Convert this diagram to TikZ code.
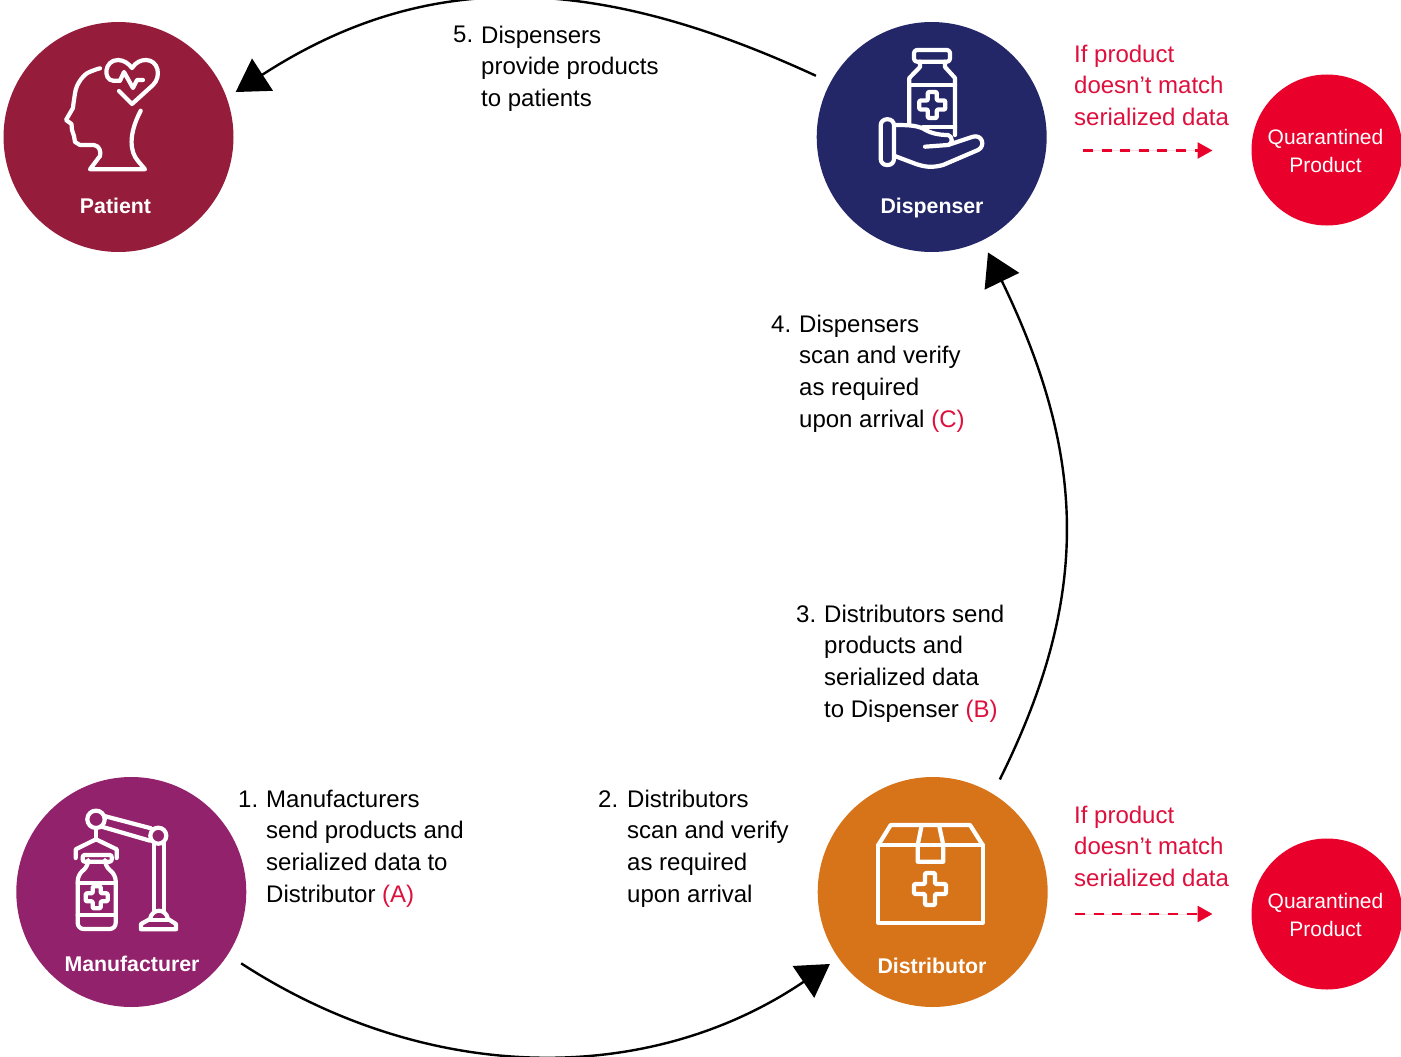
\documentclass[tikz,border=0pt]{standalone}
\usepackage{fontspec}
\setmainfont{Liberation Sans}
\usetikzlibrary{arrows.meta,positioning}

\definecolor{patientred}{HTML}{951C3B}
\definecolor{dispenserblue}{HTML}{232768}
\definecolor{makerpurple}{HTML}{92226B}
\definecolor{distorange}{HTML}{D7741A}
\definecolor{quarred}{HTML}{E9002B}
\definecolor{notered}{HTML}{DE0F3C}

\tikzset{
  actor/.style={circle, minimum size=230pt, inner sep=0, outer sep=10.5pt, text=white},
  quarantine/.style={circle, fill=quarred, minimum size=151pt, inner sep=0, outer sep=0},
  actorname/.style={anchor=base, inner sep=0, text=white, font=\fontsize{21.3}{26}\selectfont\bfseries},
  quarname/.style={anchor=center, inner sep=0, text=white, align=center, font=\fontsize{21}{28}\selectfont},
  steptext/.style={anchor=base west, inner sep=0, align=left, font=\fontsize{24}{31.6}\selectfont},
  rednote/.style={steptext, text=notered},
  flow/.style={-{Triangle[length=32pt,width=38pt]}, line width=2.4pt, shorten <=5.5pt},
  quarflow/.style={-{Triangle[length=15pt,width=16pt]}, draw=quarred, fill=quarred, line width=2.6pt, dash pattern=on 10pt off 8.6pt},
  iconline/.style={draw=white, line width=4.2pt, line cap=round, line join=round},
}

% cross on the bottles and the box: x, y, arm, half width
\newcommand{\medcross}[4]{
  \draw[iconline, rounded corners=1pt] (#1-#4,#2-#3) -- (#1+#4,#2-#3) -- (#1+#4,#2-#4) -- (#1+#3,#2-#4)
    -- (#1+#3,#2+#4) -- (#1+#4,#2+#4) -- (#1+#4,#2+#3) -- (#1-#4,#2+#3) -- (#1-#4,#2+#4)
    -- (#1-#3,#2+#4) -- (#1-#3,#2-#4) -- (#1-#4,#2-#4) -- cycle;
}

\begin{document}
\begin{tikzpicture}[x=1pt, y=-1pt]
  \useasboundingbox (0,0) rectangle (1401,1057);

  \node (patient) at (118.5,137) [actor, fill=patientred] {};
  \node (dispenser) at (931.7,137) [actor, fill=dispenserblue] {};
  \node (manufacturer) at (131.3,892) [actor, fill=makerpurple] {};
  \node (distributor) at (932.7,892) [actor, fill=distorange] {};
  \node (quarantine1) at (1327,150) [quarantine] {};
  \node (quarantine2) at (1327,914) [quarantine] {};

  \node (patientname) at (115.5,213.5) [actorname] {Patient};
  \node (dispensername) at (932,213.5) [actorname] {Dispenser};
  \node (manufacturername) at (132,971) [actorname] {Manufacturer};
  \node (distributorname) at (932,973) [actorname] {Distributor};
  \node (quarname1) at (1325.5,151) [quarname] {Quarantined\\Product};
  \node (quarname2) at (1325.5,915) [quarname] {Quarantined\\Product};

  % base of a text block is its last line
  \node (num1) at (238,807) [steptext] {1.};
  \node (step1) at (266,902) [steptext] {Manufacturers\\send products and\\serialized data to\\Distributor \textcolor{notered}{(A)}};
  \node (num2) at (598,807) [steptext] {2.};
  \node (step2) at (627,902) [steptext] {Distributors\\scan and verify\\as required\\upon arrival};
  \node (num3) at (796,622) [steptext] {3.};
  \node (step3) at (824,717) [steptext] {Distributors send\\products and\\serialized data\\to Dispenser \textcolor{notered}{(B)}};
  \node (num4) at (771,332) [steptext] {4.};
  \node (step4) at (799,427) [steptext] {Dispensers\\scan and verify\\as required\\upon arrival \textcolor{notered}{(C)}};
  \node (num5) at (453,43) [steptext] {5.};
  \node (step5) at (481,106.2) [steptext] {Dispensers\\provide products\\to patients};
  \node (note1) at (1074,125.4) [rednote] {If product\\doesn’t match\\serialized data};
  \node (note2) at (1074,886.4) [rednote] {If product\\doesn’t match\\serialized data};

  % main loop
  \draw[flow] (manufacturer.-33.3) .. controls (430,1086) and (650,1086) .. (distributor.215.3);
  \draw[flow, shorten >=3pt] (distributor.59) .. controls (1089,600) and (1089,461) .. (dispenser.-64.5);
  \draw[flow] (dispenser.152.8) .. controls (600,-24) and (430,-34) .. (patient.21);

  % quarantine arrows
  \coordinate (flag1) at (1083,150.5);
  \coordinate (flag2) at (1075,914);
  \draw[quarflow, shorten >=39pt] (flag1) -- (quarantine1.west |- flag1);
  \draw[quarflow, shorten >=39pt] (flag2) -- (quarantine2);

  % patient icon
  \draw[iconline] plot[smooth, tension=.6] coordinates {(100,68.3) (86,74) (77,86) (74,100) (73,108)} -- (66,120) -- (71.5,124)
    -- (72,130) -- (74,136) -- (75,142) -- (80,145) -- (94,145)
    .. controls (100,146) and (101,152) .. (100,156) -- (90,169.3) -- (145,169.3) -- (138,161)
    .. controls (130,152) and (128,135) .. (140.7,110.7);
  \draw[iconline] (120,80.7) -- (113,80.7) .. controls (103,80) and (104,60) .. (118,60)
    .. controls (124,60) and (129,64) .. (132,68) .. controls (136,62) and (141,60) .. (146,60)
    .. controls (158,60) and (162,76) .. (153,85) -- (132,104) -- (119,91);
  \draw[iconline] (120,80.7) -- (124,72) -- (133,88) -- (137,80) -- (143,80);

  % dispenser icon
  \draw[iconline, rounded corners=3pt] (914,50) rectangle (950,61.7);
  \draw[iconline] (920,61.7) -- (920,67) -- (909.3,78) -- (909.3,125);
  \draw[iconline] (945,61.7) -- (945,67) -- (955,78) -- (955,135);
  \draw[iconline] (909.3,85) -- (955,85);
  \draw[iconline] (923,127) -- (955,127);
  \medcross{932.3}{105}{13}{4.5}
  \draw[iconline, rounded corners=6pt] (880.7,119.3) rectangle (894,165);
  \draw[iconline] (894,125) .. controls (905,125) and (915,125) .. (923,128.5)
    .. controls (930,133) and (938,135) .. (948,135) .. controls (953,136) and (953,145) .. (948,145) -- (925,146.7);
  \draw[iconline] (948,145) -- (973,136.7) .. controls (982,134) and (986,146) .. (978,150)
    -- (943,165) .. controls (932,168) and (925,167) .. (916,164) -- (894,155.7);

  % manufacturer icon
  \draw[iconline] (96,819.3) circle (8.7);
  \draw[iconline] (158.3,835.7) circle (8);
  \draw[iconline] (104.3,816) -- (151,828.3);
  \draw[iconline] (101.7,826.7) -- (150,840.7);
  \draw[iconline] (154,843.3) -- (154,910);
  \draw[iconline] (164,843.3) -- (164,910);
  \draw[iconline] (141,929.3) -- (176,929.3) -- (176,924) -- (168,919) .. controls (166,908) and (152,908) .. (150,919) -- (141,924) -- cycle;
  \draw[iconline] (150,920) -- (168,920);
  \draw[iconline] (96,828.3) -- (96,839.3);
  \draw[iconline] (75.7,858) -- (75.7,849.3) -- (96,839.3) -- (116.7,849.3) -- (116.7,858);
  \draw[iconline, rounded corners=2pt] (82.7,855) rectangle (111.7,861.7);
  \draw[iconline, rounded corners=6pt] (88.3,861.7) -- (88.3,866) -- (77.7,875) -- (77.7,929) -- (115.7,929) -- (115.7,875) -- (105,866) -- (105,861.7);
  \draw[iconline] (77.7,883.3) -- (115.7,883.3);
  \draw[iconline] (77.7,915) -- (115.7,915);
  \medcross{96.7}{897.3}{11}{4}

  % distributor icon
  \draw[iconline] (878.3,845) rectangle (982.7,922.7);
  \draw[iconline] (878.3,845) -- (890.7,825) -- (970,825) -- (982.7,845);
  \draw[iconline] (921.7,825) -- (917.7,845) -- (917.7,861.7) -- (943.3,861.7) -- (943.3,845) -- (939,825);
  \draw[iconline] (917.7,845) -- (943.3,845);
  \medcross{930}{889}{16}{5}
\end{tikzpicture}
\end{document}
